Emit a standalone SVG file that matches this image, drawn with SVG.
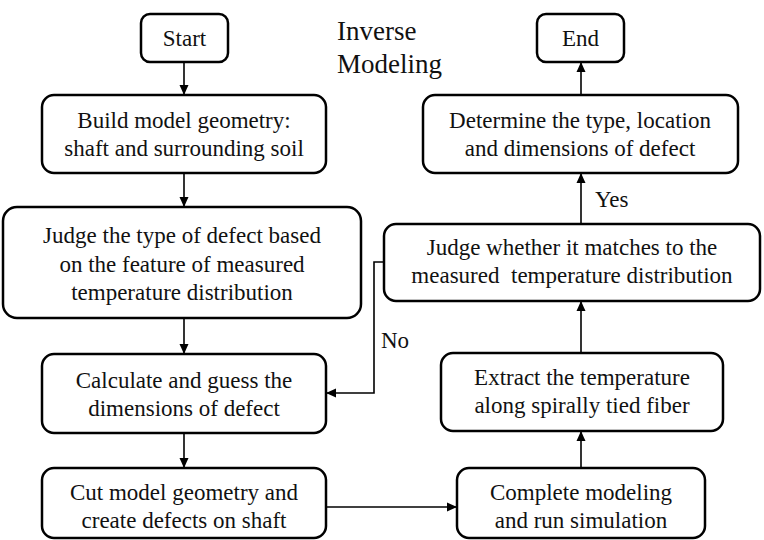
<svg xmlns="http://www.w3.org/2000/svg" width="764" height="540" viewBox="0 0 764 540">
<style>
.box{fill:#fff;stroke:#000;stroke-width:2.5}
.t{font-family:"Liberation Serif","Times New Roman",serif;font-size:23px;fill:#111;text-anchor:middle}
.lbl{font-family:"Liberation Serif","Times New Roman",serif;font-size:23px;fill:#111}
.ttl{font-family:"Liberation Serif","Times New Roman",serif;font-size:27px;fill:#111}
.c{fill:none;stroke:#000;stroke-width:1.6}
</style>
<defs>
<marker id="ah" viewBox="0 0 10 10" refX="10" refY="5" markerWidth="10" markerHeight="10" markerUnits="userSpaceOnUse" orient="auto">
<path d="M0,0.5 L10,5 L0,9.5 Z" fill="#000"/>
</marker>
</defs>
<rect width="764" height="540" fill="#fff"/>
<text class="ttl" x="337" y="40">Inverse</text>
<text class="ttl" x="337" y="73">Modeling</text>
<g id="connectors">
<line class="c" x1="184" y1="62" x2="184" y2="95" marker-end="url(#ah)"/>
<line class="c" x1="184" y1="173" x2="184" y2="207" marker-end="url(#ah)"/>
<line class="c" x1="184" y1="318" x2="184" y2="354" marker-end="url(#ah)"/>
<line class="c" x1="184" y1="433" x2="184" y2="468" marker-end="url(#ah)"/>
<line class="c" x1="326" y1="507" x2="457" y2="507" marker-end="url(#ah)"/>
<line class="c" x1="581" y1="468" x2="581" y2="431" marker-end="url(#ah)"/>
<line class="c" x1="581" y1="353" x2="581" y2="301" marker-end="url(#ah)"/>
<line class="c" x1="581" y1="224" x2="581" y2="173" marker-end="url(#ah)"/>
<line class="c" x1="581" y1="95" x2="581" y2="62" marker-end="url(#ah)"/>
<polyline class="c" points="384,262 374,262 374,393 326,393" marker-end="url(#ah)"/>
<text class="lbl" x="595" y="207">Yes</text>
<text class="lbl" x="381" y="348">No</text>
</g>
<g id="start">
<rect class="box" x="141" y="14" width="87" height="48" rx="9"/>
<text class="t" x="184.5" y="46">Start</text>
</g>
<g id="build">
<rect class="box" x="42" y="95" width="284" height="78" rx="12"/>
<text class="t" x="184" y="128">Build model geometry:</text>
<text class="t" x="184" y="156">shaft and surrounding soil</text>
</g>
<g id="judge-type">
<rect class="box" x="3" y="207" width="358" height="111" rx="14"/>
<text class="t" x="182" y="243">Judge the type of defect based</text>
<text class="t" x="182" y="272">on the feature of measured</text>
<text class="t" x="182" y="300">temperature distribution</text>
</g>
<g id="calculate">
<rect class="box" x="42" y="354" width="284" height="79" rx="12"/>
<text class="t" x="184" y="388">Calculate and guess the</text>
<text class="t" x="184" y="416">dimensions of defect</text>
</g>
<g id="cut">
<rect class="box" x="42" y="468" width="284" height="70" rx="12"/>
<text class="t" x="184" y="500">Cut model geometry and</text>
<text class="t" x="184" y="528">create defects on shaft</text>
</g>
<g id="complete">
<rect class="box" x="457" y="468" width="248" height="70" rx="12"/>
<text class="t" x="581" y="500">Complete modeling</text>
<text class="t" x="581" y="528">and run simulation</text>
</g>
<g id="extract">
<rect class="box" x="441" y="353" width="282" height="78" rx="12"/>
<text class="t" x="582" y="385">Extract the temperature</text>
<text class="t" x="582" y="413">along spirally tied fiber</text>
</g>
<g id="judge-match">
<rect class="box" x="384" y="224" width="376" height="77" rx="12"/>
<text class="t" x="572" y="255">Judge whether it matches to the</text>
<text class="t" x="572" y="283" xml:space="preserve">measured  temperature distribution</text>
</g>
<g id="determine">
<rect class="box" x="423" y="95" width="315" height="78" rx="12"/>
<text class="t" x="580" y="128">Determine the type, location</text>
<text class="t" x="580" y="156">and dimensions of defect</text>
</g>
<g id="end">
<rect class="box" x="537" y="14" width="87" height="48" rx="9"/>
<text class="t" x="580.5" y="46">End</text>
</g>
</svg>
